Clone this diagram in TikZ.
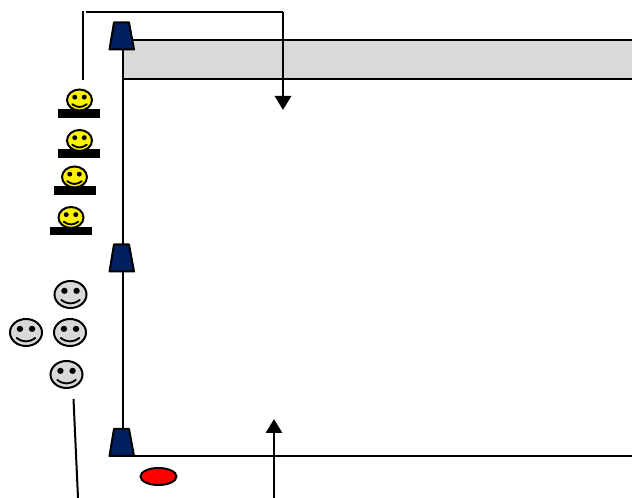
\documentclass[tikz,border=0pt]{standalone}
\usetikzlibrary{arrows.meta}
\definecolor{conecol}{RGB}{0,32,96}
\definecolor{bandcol}{RGB}{217,217,217}
\tikzset{
  x=0.75pt,y=-0.75pt,
  wire/.style={draw=black,line width=1.5pt},
  arrowline/.style={draw=black,line width=2.2pt,-{Triangle[length=10.5pt,width=12pt]}},
  conestyle/.style={draw=black,line width=1.5pt,fill=conecol,line join=round},
  barstyle/.style={fill=black,draw=none},
}
\newcommand{\conesym}[2]{%
  \draw[conestyle] (#1-9.5,#2) -- (#1+5.5,#2) -- (#1+10.5,#2+27) -- (#1-14,#2+27) -- cycle;}
\newcommand{\facesym}[5]{% cx cy rx ry fill
  \draw[line width=1.5pt,fill=#5] (#1,#2) ellipse ({#3} and {#4});
  \fill (#1-0.38*#3,#2-0.27*#4) ellipse ({0.2*#3} and {0.23*#4});
  \fill (#1+0.38*#3,#2-0.27*#4) ellipse ({0.2*#3} and {0.23*#4});
  \draw[line width=1.4pt,line cap=round] (#1-0.58*#3,#2+0.40*#4) .. controls (#1-0.2*#3,#2+0.75*#4) and (#1+0.2*#3,#2+0.75*#4) .. (#1+0.58*#3,#2+0.40*#4);}
\begin{document}
\begin{tikzpicture}
\useasboundingbox (0,0) rectangle (632,498);
% named anchor points
\coordinate (leadTop) at (82.5,11.5);
\coordinate (leadBot) at (82.5,80);
\coordinate (topL) at (85.5,12);
\coordinate (topR) at (283,12);
\coordinate (downEnd) at (283,110);
\coordinate (upStart) at (274,498);
\coordinate (upEnd) at (274,419);
\coordinate (slantTop) at (73.5,399);
\coordinate (slantBot) at (78,498);
\coordinate (postTop) at (123,45);
\coordinate (postBot) at (123,440);
\coordinate (floorL) at (123,456);
\coordinate (floorR) at (632,456);
% band
\path[fill=bandcol] (123,40) rectangle (632,79);
\coordinate (bandTL) at (123,40);
\coordinate (bandTR) at (632,40);
\coordinate (bandBL) at (123,79);
\coordinate (bandBR) at (632,79);
\draw[wire] (bandTL) -- (bandTR);
\draw[wire] (bandBL) -- (bandBR);
\draw[wire] (postTop) -- (postBot);
\draw[wire] (floorL) -- (floorR);
% cones
\conesym{123.5}{22.5}
\conesym{123.5}{244.5}
\conesym{123.5}{429}
% leaders
\draw[wire] (leadTop) -- (leadBot);
\draw[wire] (topL) -- (topR);
\draw[arrowline] (topR) -- (downEnd);
\draw[arrowline] (upStart) -- (upEnd);
\draw[wire] (slantTop) -- (slantBot);
% yellow smileys on bars
\fill[barstyle] (58,109.5) rectangle (100,118);
\facesym{79.5}{100}{12.5}{10.5}{yellow}
\fill[barstyle] (58,149.5) rectangle (100,158);
\facesym{79.5}{140.5}{12.5}{10.5}{yellow}
\fill[barstyle] (53.5,186.5) rectangle (95.5,195);
\facesym{74.5}{177}{12.5}{10.5}{yellow}
\fill[barstyle] (49.5,227) rectangle (91.5,235.5);
\facesym{71}{217.5}{12.5}{10.5}{yellow}
% grey smileys
\facesym{70.5}{294.5}{16}{13.5}{bandcol}
\facesym{26}{332.5}{16}{13.5}{bandcol}
\facesym{70}{332.5}{16}{13.5}{bandcol}
\facesym{66.5}{374.5}{16}{13.5}{bandcol}
% red ellipse
\draw[line width=1.5pt,fill=red] (158.5,476.5) ellipse (18 and 8.5);
\end{tikzpicture}
\end{document}
